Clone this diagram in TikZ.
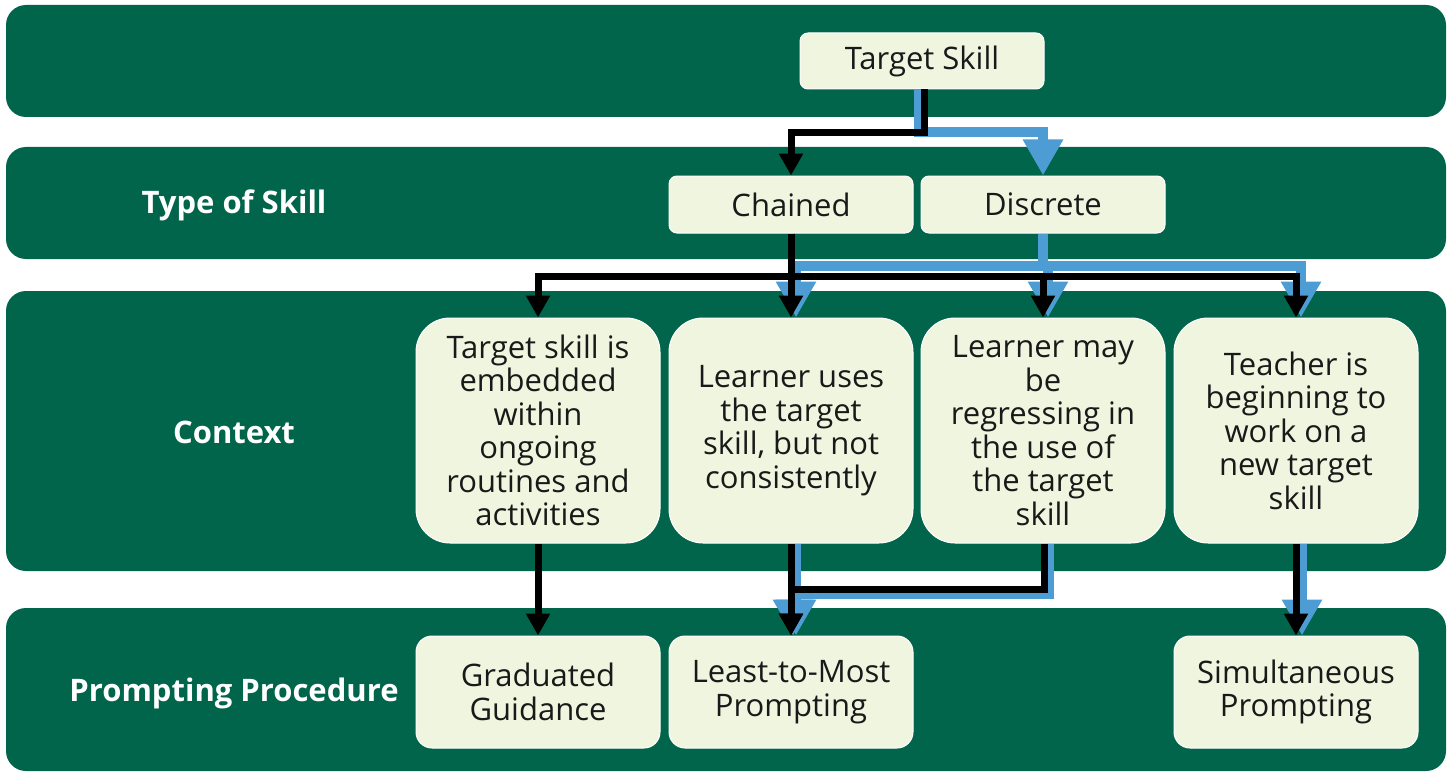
\documentclass[tikz,border=0pt]{standalone}
\usepackage{fontspec}
\setmainfont{Open Sans}
\usepackage{tikz}
\usetikzlibrary{arrows.meta}

\definecolor{bandgreen}{RGB}{0,101,74}
\definecolor{boxcream}{RGB}{240,245,223}
\definecolor{pathblue}{RGB}{77,157,212}
\definecolor{textdark}{RGB}{25,25,25}

\tikzstyle{band} = [fill=bandgreen, rounded corners=20pt]
\tikzstyle{box} = [rectangle, fill=boxcream, draw=white, line width=1pt, text=textdark, align=center, inner sep=0pt, minimum width=244pt, font=\fontsize{31}{33.5}\selectfont]
\tikzstyle{rowlabel} = [text=white, font=\bfseries\fontsize{31}{33}\selectfont]
\tikzstyle{blackarrow} = [line width=7pt, black, -{Triangle[length=22pt,width=23pt]}]
\tikzstyle{bluearrow} = [line width=10pt, pathblue, -{Triangle[length=36pt,width=38pt]}]

\begin{document}
\begin{tikzpicture}[x=1pt, y=-1pt]
        \useasboundingbox (0,0) rectangle (1456,773);

        % Bands
        \fill[band] (6,5) rectangle (1446,117);
        \fill[band] (6,147) rectangle (1446,259);
        \fill[band] (6,291) rectangle (1446,571);
        \fill[band] (6,608) rectangle (1446,771);

        % Row labels
        \node[rowlabel] (typelabel) at (234,205) {Type of Skill};
        \node[rowlabel] (contextlabel) at (234,432) {Context};
        \node[rowlabel] (promptlabel) at (234,693) {Prompting Procedure};

        % Boxes
        \node[box, minimum height=56pt, rounded corners=8pt] (target) at (922,61) {Target Skill};
        \node[box, minimum height=57pt, rounded corners=8pt] (chained) at (791,204.5) {Chained};
        \node[box, minimum height=57pt, rounded corners=8pt] (discrete) at (1043,204.5) {Discrete};

        \node[box, minimum height=225pt, rounded corners=34pt] (embedded) at (538,430.5) {Target skill is\\embedded\\within\\ongoing\\routines and\\activities};
        \node[box, minimum height=225pt, rounded corners=34pt] (uses) at (791,430.5) {Learner uses\\the target\\skill, but not\\consistently};
        \node[box, minimum height=225pt, rounded corners=34pt] (regress) at (1043,430.5) {Learner may\\be\\regressing in\\the use of\\the target\\skill};
        \node[box, minimum height=225pt, rounded corners=34pt] (newskill) at (1296,430.5) {Teacher is\\beginning to\\work on a\\new target\\skill};

        \node[box, minimum height=112pt, rounded corners=16pt] (graduated) at (538,692) {Graduated\\Guidance};
        \node[box, minimum height=112pt, rounded corners=16pt] (leastmost) at (791,692) {Least-to-Most\\Prompting};
        \node[box, minimum height=112pt, rounded corners=16pt] (simult) at (1296,692) {Simultaneous\\Prompting};

        % Turning points
        \coordinate (btop) at (919,132);
        \coordinate (ktop) at (924,133);
        \coordinate (bmid) at (1045,266);
        \coordinate (kmid) at (791,276);
        \coordinate (blow) at (1049,594);
        \coordinate (klow) at (1044,589);

        % Edges - blue
        \draw[bluearrow] (target.south -| btop) -- (btop) -| (discrete.north);
        \foreach \n in {uses,regress,newskill}
            \draw[bluearrow] (discrete.south) |- ([xshift=5pt]\n.north |- bmid) -- ([xshift=5pt]\n.north);
        \draw[bluearrow] ([xshift=5pt]uses.south) -- ([xshift=5pt]leastmost.north);
        \draw[bluearrow] (regress.south -| blow) -- (blow) -| ([xshift=2pt]leastmost.north);
        \draw[bluearrow] ([xshift=6pt]newskill.south) -- ([xshift=6pt]simult.north);

        % Edges - black
        \draw[blackarrow] (target.south -| ktop) -- (ktop) -| (chained.north);
        \foreach \n in {embedded,uses,regress,newskill}
            \draw[blackarrow] (chained.south) |- (\n.north |- kmid) -- (\n.north);
        \draw[blackarrow] (embedded.south) -- (graduated.north);
        \draw[blackarrow] (uses.south) -- (leastmost.north);
        \draw[blackarrow] (regress.south -| klow) -- (klow) -| (leastmost.north);
        \draw[blackarrow] (newskill.south) -- (simult.north);
\end{tikzpicture}
\end{document}
